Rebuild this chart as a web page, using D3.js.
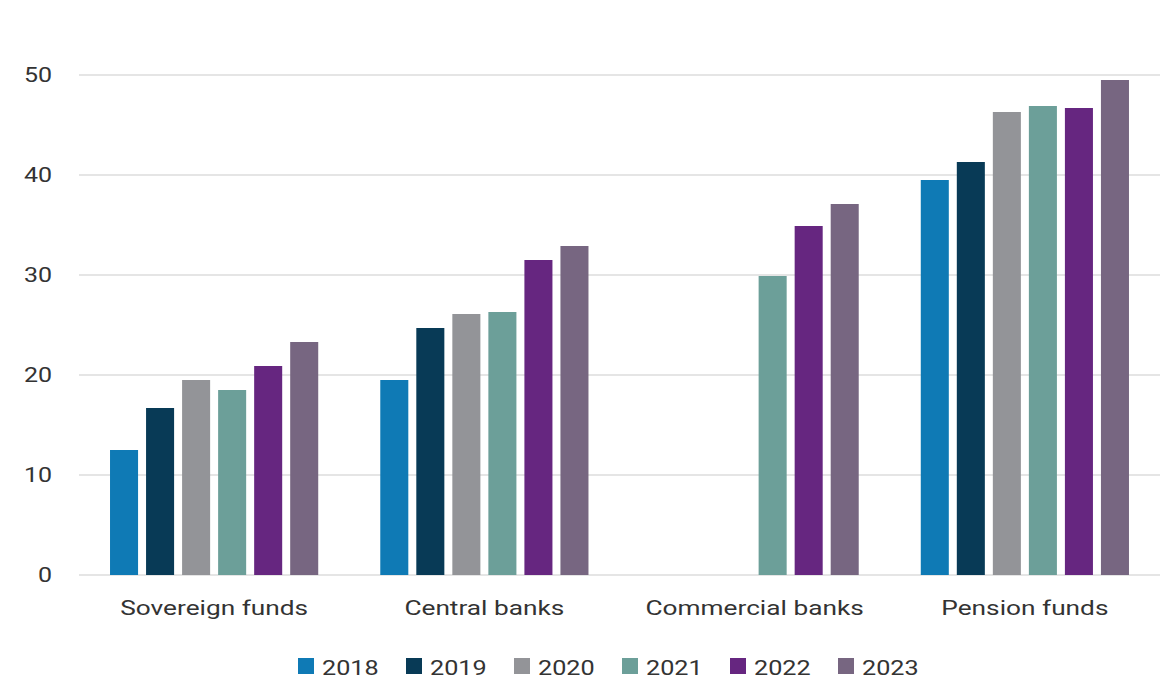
<!DOCTYPE html>
<html>
<head>
<meta charset="utf-8">
<script src="https://cdn.jsdelivr.net/npm/d3@7"></script>
<style>
  body { margin: 0; background: #fff; }
  svg { display: block; font-family: Roboto, "Noto Sans", sans-serif; }
</style>
</head>
<body>
<svg id="chart" width="1176" height="692"></svg>
<script>
var categories = ['Sovereign funds', 'Central banks', 'Commercial banks', 'Pension funds'];
var years = ['2018', '2019', '2020', '2021', '2022', '2023'];
var colors = ['#0f7ab5', '#083a56', '#939498', '#6c9f99', '#662680', '#776681'];
var yTicks = [0, 10, 20, 30, 40, 50];

// one array per year, null where there is no bar
var v2018 = [12.5, 19.5, null, 39.5];
var v2019 = [16.7, 24.7, null, 41.3];
var v2020 = [19.5, 26.1, null, 46.3];
var v2021 = [18.5, 26.3, 29.9, 46.9];
var v2022 = [20.9, 31.5, 34.9, 46.7];
var v2023 = [23.3, 32.9, 37.1, 49.5];
var series = [v2018, v2019, v2020, v2021, v2022, v2023];

var svg = d3.select('#chart');
var plotLeft = 79, plotRight = 1160, plotTop = 75, plotBottom = 575;
var stretch = 'scale(1.25,1)'; // the source font is drawn wide

var x0 = d3.scaleBand().domain(categories).range([plotLeft, plotRight]).padding(0);
var x1 = d3.scaleBand().domain(years).range([0, x0.bandwidth()])
    .paddingInner(0.222).paddingOuter(0.861);
var y = d3.scaleLinear().domain([0, 50]).range([plotBottom, plotTop]);
var color = d3.scaleOrdinal().domain(years).range(colors);

// gridlines
svg.append('g').selectAll('line')
    .data(yTicks)
  .enter()
    .append('line')
    .attr('x1', plotLeft).attr('x2', plotRight)
    .attr('y1', function(d) { return y(d); })
    .attr('y2', function(d) { return y(d); })
    .attr('stroke', '#dcdcdc')
    .attr('stroke-width', 1.5);

// y axis labels
var yAxis = svg.append('g')
    .attr('transform', 'translate(' + (plotLeft - 27) + ',0)')
    .call(d3.axisLeft(y).tickValues(yTicks).tickSize(0).tickPadding(0));
yAxis.select('.domain').remove();
yAxis.selectAll('text')
    .attr('font-size', 20)
    .attr('fill', '#333')
    .attr('transform', stretch)
    .style('font-family', 'Roboto, sans-serif');

// bars
var groups = svg.append('g').selectAll('g')
    .data(categories)
  .enter()
    .append('g')
    .attr('transform', function(d) { return 'translate(' + x0(d) + ',0)'; });

groups.selectAll('rect')
    .data(function(d, ci) {
        return years.map(function(yr, si) { return { year: yr, value: series[si][ci] }; })
            .filter(function(e) { return e.value !== null; });
    })
  .enter()
    .append('rect')
    .attr('x', function(d) { return x1(d.year); })
    .attr('width', x1.bandwidth())
    .attr('y', function(d) { return y(d.value); })
    .attr('height', function(d) { return y(0) - y(d.value); })
    .attr('fill', function(d) { return color(d.year); });

// category labels
var xAxis = svg.append('g')
    .attr('transform', 'translate(0,' + plotBottom + ')')
    .call(d3.axisBottom(x0).tickSize(0).tickPadding(25));
xAxis.select('.domain').remove();
xAxis.selectAll('text')
    .attr('font-size', 21)
    .attr('fill', '#333')
    .attr('transform', stretch)
    .style('font-family', 'Roboto, sans-serif');

// legend
var legend = svg.append('g').selectAll('g')
    .data(years)
  .enter()
    .append('g')
    .attr('transform', function(d, i) { return 'translate(' + (298 + i * 108) + ',658)'; });

legend.append('rect')
    .attr('width', 16).attr('height', 16)
    .attr('fill', function(d) { return color(d); });

legend.append('text')
    .attr('transform', 'translate(24,17) scale(1.2,1)')
    .attr('font-size', 21)
    .attr('fill', '#333')
    .text(function(d) { return d; });
</script>
</body>
</html>
